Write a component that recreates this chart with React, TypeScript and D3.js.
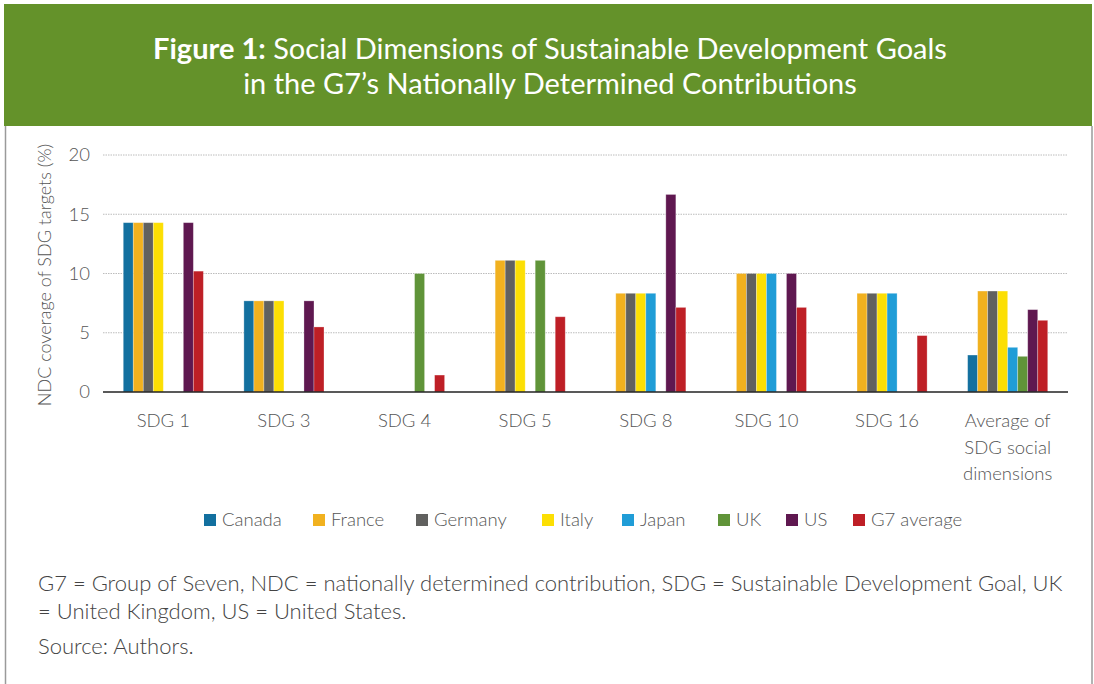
import React from "react";
import * as d3 from "d3";

const categories = ["SDG 1", "SDG 3", "SDG 4", "SDG 5", "SDG 8", "SDG 10", "SDG 16", "Average of|SDG social|dimensions"];
const seriesNames = ["Canada", "France", "Germany", "Italy", "Japan", "UK", "US", "G7 average"];
const seriesColors = ["#13709F", "#F1B11F", "#61615F", "#FCDF04", "#209DD7", "#609439", "#5F1850", "#BE1F26"];

const canada = [14.29, 7.69, 0, 0, 0, 0, 0, 3.12];
const france = [14.29, 7.69, 0, 11.11, 8.33, 10, 8.33, 8.52];
const germany = [14.29, 7.69, 0, 11.11, 8.33, 10, 8.33, 8.52];
const italy = [14.29, 7.69, 0, 11.11, 8.33, 10, 8.33, 8.52];
const japan = [0, 0, 0, 0, 8.33, 10, 8.33, 3.77];
const uk = [0, 0, 10, 11.11, 0, 0, 0, 3.01];
const us = [14.29, 7.69, 0, 0, 16.67, 10, 0, 6.95];
const g7avg = [10.2, 5.49, 1.43, 6.35, 7.14, 7.14, 4.76, 6.05];
const seriesValues = [canada, france, germany, italy, japan, uk, us, g7avg];

const yTicks = [0, 5, 10, 15, 20];
const legendX = [204, 313, 416, 542, 622, 718, 786, 853];

const W = 1094;
const H = 684;
const FONT = "Lato, 'Open Sans', sans-serif";

export default function App() {
  const x0 = d3.scaleBand<string>().domain(categories).range([103, 1068]).paddingInner(0.336).paddingOuter(0.168);
  const x1 = d3.scaleBand<string>().domain(seriesNames).range([0, x0.bandwidth()]);
  const y = d3.scaleLinear().domain([0, 20]).range([392, 155]);
  const xc = d3.scaleBand<string>().domain(categories).range([103, 1068]);

  return (
    <svg width={W} height={H} style={{ position: "absolute", left: 0, top: 0, background: "#fff" }} fontFamily={FONT}>
      <rect x={4} y={4} width={1088} height={122} fill="#64922A" />
      <line x1={5.5} x2={5.5} y1={126} y2={H} stroke="#9a9a9a" strokeWidth={1.5} />
      <line x1={1092} x2={1092} y1={126} y2={H} stroke="#9a9a9a" strokeWidth={1.5} />
      <text x={550} y={59} textAnchor="middle" fill="#fff" fontSize={29}>
        <tspan fontWeight={700}>Figure 1:</tspan> Social Dimensions of Sustainable Development Goals
      </text>
      <text x={550} y={94} textAnchor="middle" fill="#fff" fontSize={29}>
        in the G7’s Nationally Determined Contributions
      </text>

      {yTicks.map((t) => (
        <g key={t}>
          {t > 0 && (
            <line x1={103} x2={1068} y1={y(t)} y2={y(t)} stroke="#bcbcbc" strokeWidth={1} strokeDasharray="1.5 1" />
          )}
          <text x={90} y={y(t)} dy="0.35em" textAnchor="end" fontSize={18.5} fill="#555" fontWeight={300}>
            {t}
          </text>
        </g>
      ))}
      <text transform={`translate(45,275) rotate(-90)`} textAnchor="middle" dy="0.35em" fontSize={18} fill="#555" fontWeight={300}>
        NDC coverage of SDG targets (%)
      </text>

      {categories.map((c, ci) => (
        <g key={c} transform={`translate(${x0(c)},0)`}>
          {seriesNames.map((s, si) => {
            const v = seriesValues[si][ci];
            if (!v) return null;
            return (
              <rect
                key={s}
                x={x1(s)}
                y={y(v)}
                width={x1.bandwidth()}
                height={y(0) - y(v)}
                fill={seriesColors[si]}
                stroke="#ffffff"
                strokeOpacity={0.35}
                strokeWidth={0.8}
              />
            );
          })}
        </g>
      ))}
      <line x1={103} x2={1068} y1={392} y2={392} stroke="#222" strokeWidth={1.5} />

      {categories.map((c) => {
        const lines = c.split("|");
        const cx = (xc(c) as number) + xc.bandwidth() / 2;
        return (
          <text key={c} x={cx} y={421} textAnchor="middle" fontSize={18.5} fill="#555" fontWeight={300}>
            {lines.map((l, i) => (
              <tspan key={i} x={cx} dy={i === 0 ? "0.35em" : 26.5}>
                {l}
              </tspan>
            ))}
          </text>
        );
      })}

      {seriesNames.map((s, i) => (
        <g key={s}>
          <rect x={legendX[i]} y={514} width={12} height={12} fill={seriesColors[i]} />
          <text x={legendX[i] + 18} y={520} dy="0.35em" fontSize={18.5} fill="#555" fontWeight={300}>
            {s}
          </text>
        </g>
      ))}

      <text x={38} y={583} dy="0.35em" fontSize={22} fill="#444" fontWeight={300}>
        G7 = Group of Seven, NDC = nationally determined contribution, SDG = Sustainable Development Goal, UK
      </text>
      <text x={38} y={611} dy="0.35em" fontSize={22} fill="#444" fontWeight={300}>
        = United Kingdom, US = United States.
      </text>
      <text x={38} y={646} dy="0.35em" fontSize={22} fill="#444" fontWeight={300}>
        Source: Authors.
      </text>
    </svg>
  );
}
